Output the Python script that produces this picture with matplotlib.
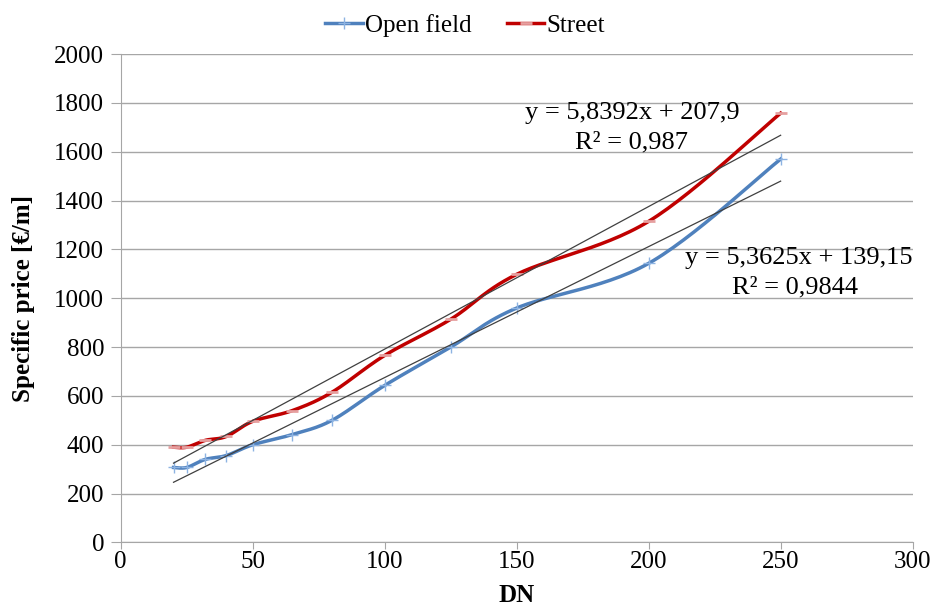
import numpy as np
import matplotlib.pyplot as plt

plt.rcParams['font.family'] = ['Liberation Serif', 'DejaVu Serif']

dn = [20, 25, 32, 40, 50, 65, 80, 100, 125, 150, 200, 250]
open_field = [307, 307, 340, 356, 400, 442, 500, 643, 800, 960, 1143, 1570]
street = [390, 390, 418, 434, 496, 540, 615, 766, 914, 1098, 1315, 1758]

# linear trend coefficients (slope, intercept) and R²
open_fit = (5.3625, 139.15, 0.9844)
street_fit = (5.8392, 207.9, 0.987)


def smooth(x, y, n=30):
    # Bezier smoothing through the points, like a spreadsheet "smoothed line"
    x = np.asarray(x, float)
    y = np.asarray(y, float)
    px = np.concatenate([[x[0]], x, [x[-1]]])
    py = np.concatenate([[y[0]], y, [y[-1]]])
    xs, ys = [], []
    t = np.linspace(0, 1, n)
    for i in range(1, len(x)):
        p0 = np.array([px[i], py[i]])
        p3 = np.array([px[i + 1], py[i + 1]])
        c1 = p0 + (np.array([px[i + 1], py[i + 1]]) - np.array([px[i - 1], py[i - 1]])) / 6
        c2 = p3 - (np.array([px[i + 2], py[i + 2]]) - np.array([px[i], py[i]])) / 6
        b = ((1 - t) ** 3)[:, None] * p0 + (3 * (1 - t) ** 2 * t)[:, None] * c1 \
            + (3 * (1 - t) * t ** 2)[:, None] * c2 + (t ** 3)[:, None] * p3
        xs.extend(b[:, 0])
        ys.extend(b[:, 1])
    return xs, ys


def eq_text(k, b, r2):
    fmt = lambda v: ('%g' % v).replace('.', ',')
    return 'y = %sx + %s' % (fmt(k), fmt(b)), 'R² = %s' % fmt(r2)


fig, ax = plt.subplots(figsize=(9.36, 6.15), dpi=100)
fig.subplots_adjust(left=0.129, right=0.975, top=0.912, bottom=0.118)

blue = '#4f81bd'
red = '#c00000'

sx, sy = smooth(dn, open_field)
ax.plot(sx, sy, color=blue, lw=2.5)
ax.plot(dn, open_field, ls='none', marker='+', ms=9, mew=1, color='#8db3e2')
ax.plot([], [], color=blue, lw=2.5, marker='+', ms=9, mew=1, mec='#8db3e2', label='Open field')

sx, sy = smooth(dn, street)
ax.plot(sx, sy, color=red, lw=2.5)
ax.plot(dn, street, ls='none', marker='_', ms=8, mew=2, color='#e6a0a0')
ax.plot([], [], color=red, lw=2.5, marker='_', ms=8, mew=2, mec='#e6a0a0', label='Street')

xt = np.array([dn[0], dn[-1]])
for k, b, r2 in (open_fit, street_fit):
    ax.plot(xt, k * xt + b, color='#404040', lw=0.9)

l1, l2 = eq_text(*street_fit)
ax.text(193.8, 1758, l1, ha='center', va='center', fontsize=19)
ax.text(193.4, 1639, l2, ha='center', va='center', fontsize=19)
l1, l2 = eq_text(*open_fit)
ax.text(256.8, 1164, l1, ha='center', va='center', fontsize=19)
ax.text(255.6, 1045, l2, ha='center', va='center', fontsize=19)

ax.set_xlim(0, 300)
ax.set_ylim(0, 2000)
ax.set_xticks(np.arange(0, 301, 50))
ax.set_yticks(np.arange(0, 2001, 200))
ax.grid(axis='y', color='#a6a6a6', lw=1)
ax.set_axisbelow(True)
for s in ('top', 'right'):
    ax.spines[s].set_visible(False)
for s in ('left', 'bottom'):
    ax.spines[s].set_color('#a6a6a6')
ax.tick_params(colors='#a6a6a6', labelcolor='black', labelsize=18)
ax.tick_params(axis='y', length=7, pad=5)
ax.tick_params(axis='x', length=5, pad=1)

ax.set_xlabel('DN', fontsize=18, fontweight='bold', labelpad=8)
ax.set_ylabel('Specific price [€/m]', fontsize=18, fontweight='bold', labelpad=14)

ax.legend(loc='lower center', bbox_to_anchor=(0.435, 1.0), ncol=2, frameon=False,
          fontsize=18, handlelength=1.5, handletextpad=0.1, columnspacing=1.4,
          borderaxespad=0.3)

fig.savefig('out.png', dpi=100)
